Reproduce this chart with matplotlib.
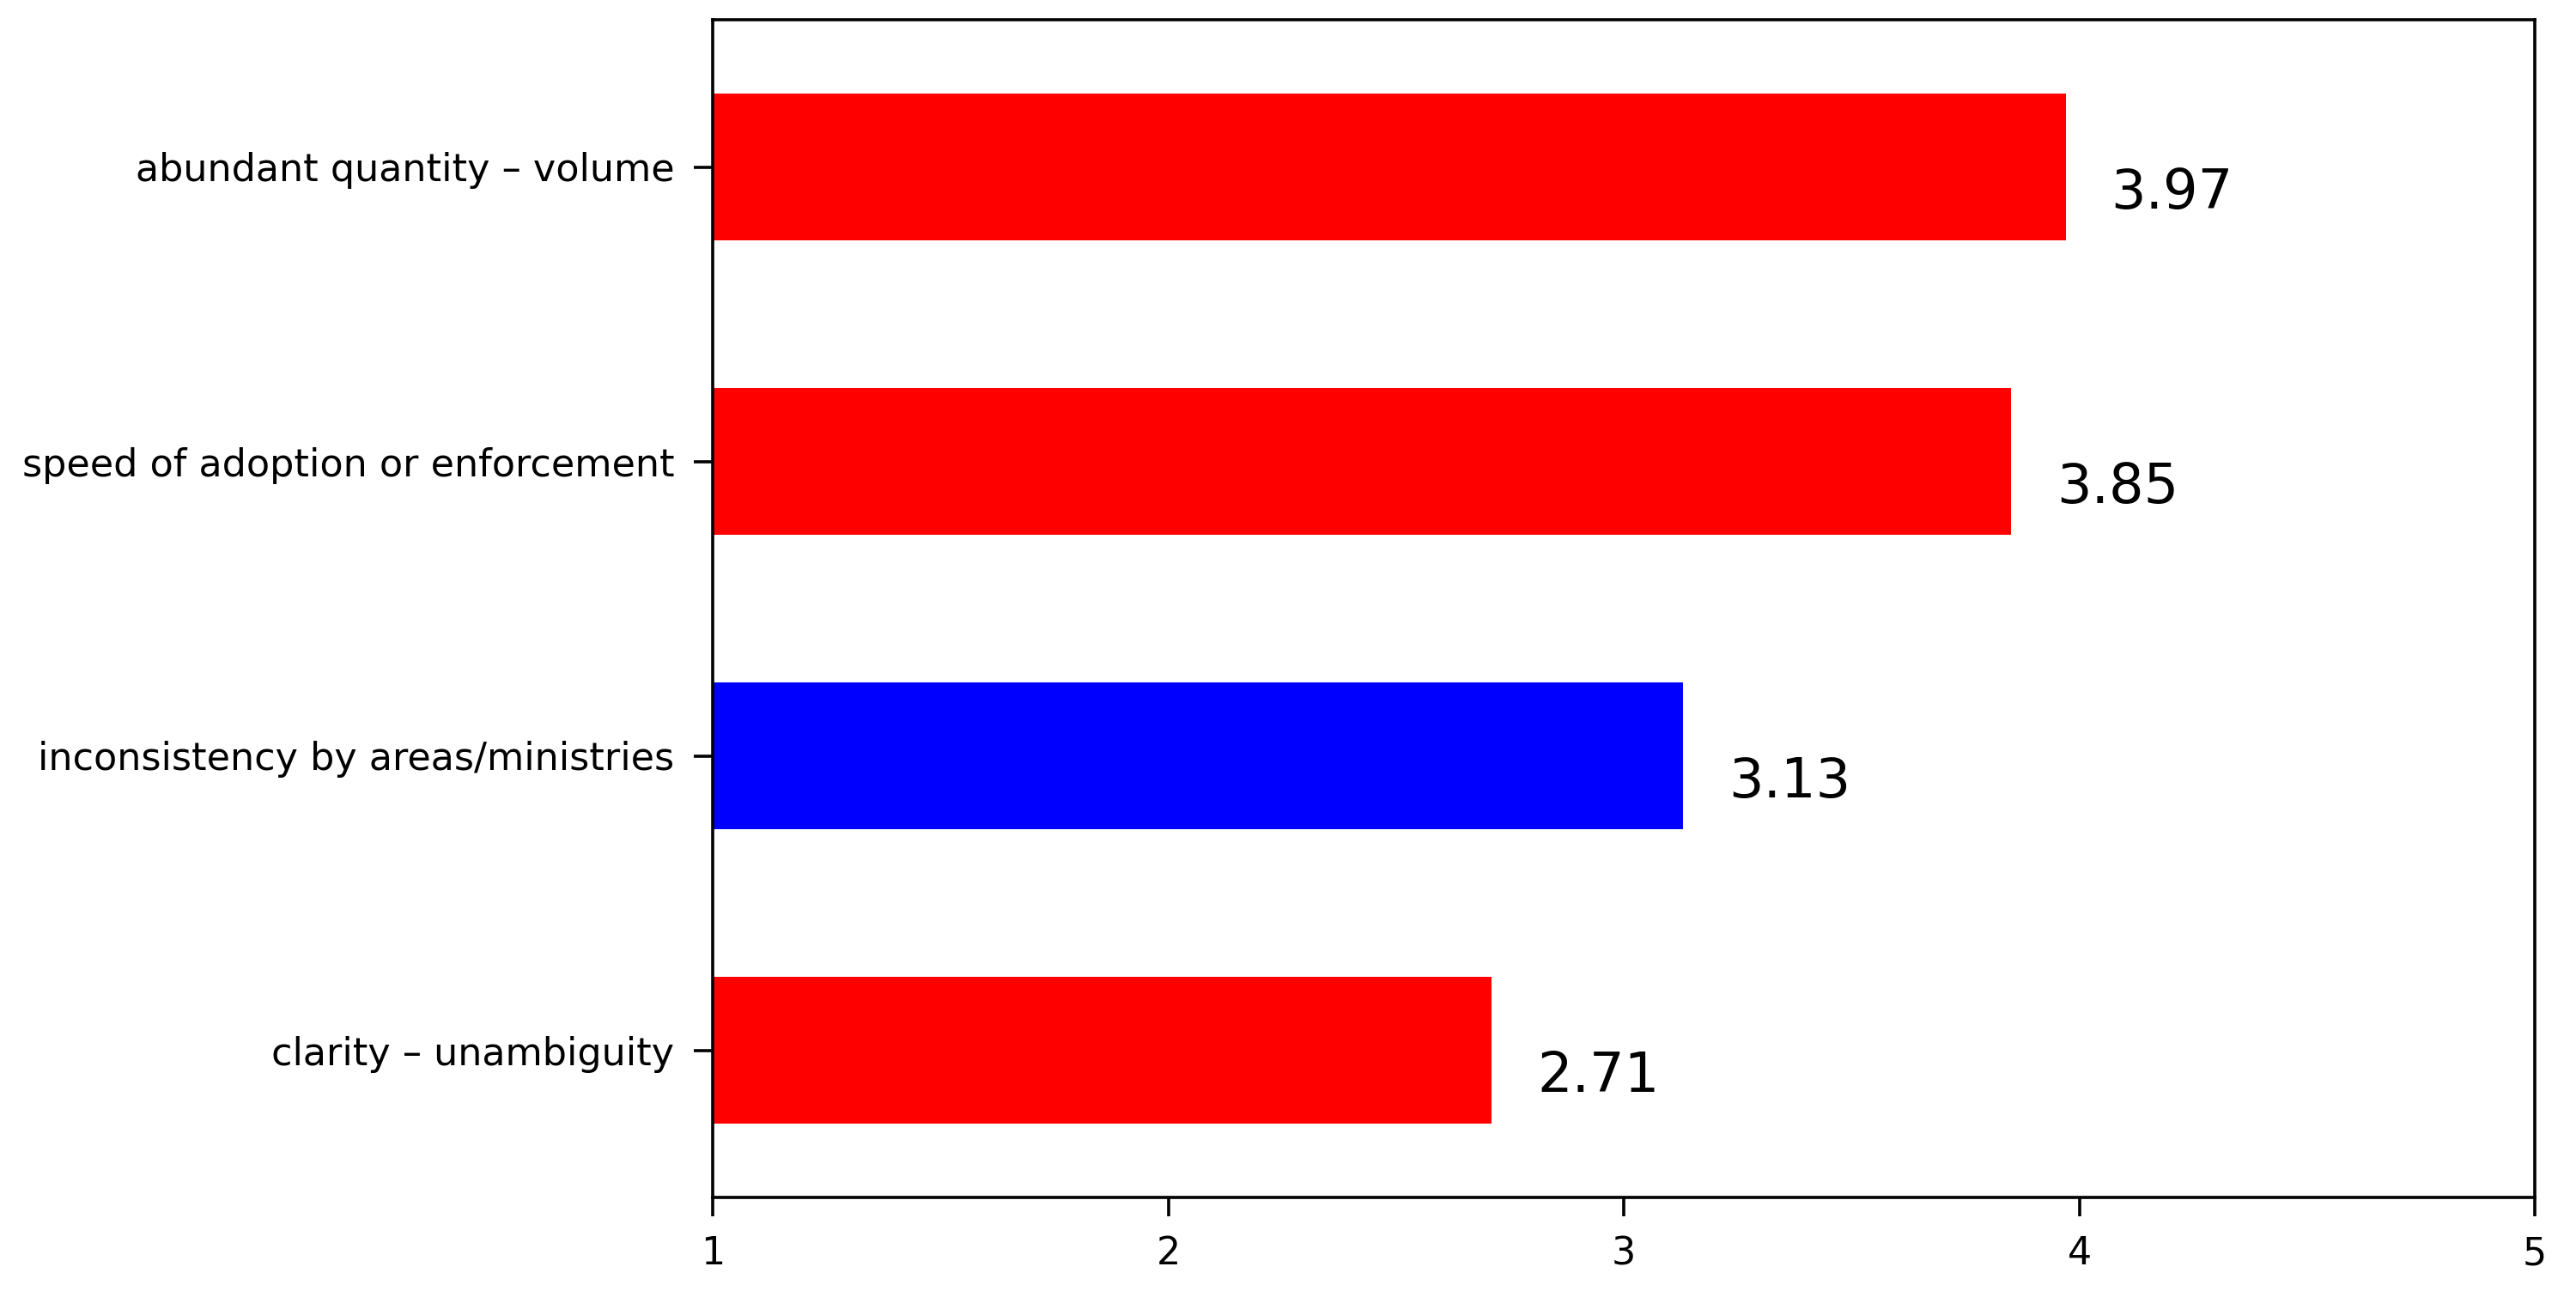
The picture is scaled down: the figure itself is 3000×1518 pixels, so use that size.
import matplotlib
matplotlib.use("Agg")
import matplotlib.pyplot as plt

categories = ["clarity \u2013 unambiguity",
              "inconsistency by areas/ministries",
              "speed of adoption or enforcement",
              "abundant quantity \u2013 volume"]
values = [2.71, 3.13, 3.85, 3.97]
colors = ["#ff0000", "#0000ff", "#ff0000", "#ff0000"]
xticks = [1, 2, 3, 4, 5]

plt.rcParams['font.family'] = ['DejaVu Sans']
fig = plt.figure(figsize=(15, 7.59), dpi=200)
ax = fig.add_axes([830/3000, 1 - 1395/1518, (2952-830)/3000, (1395-23)/1518])

base = 1
ypos = list(range(len(categories)))
ax.barh(ypos, [v - base for v in values], left=base, height=0.5, color=colors)
for y, v in zip(ypos, values):
    ax.text(v + 0.1, y - 0.09, f"{v:.2f}", fontsize=23, va="center", ha="left")

ax.set_yticks(ypos)
ax.set_yticklabels(categories, fontsize=16)
ax.set_xticks(xticks)
ax.set_xticklabels([str(t) for t in xticks], fontsize=16)
ax.set_xlim(1, 5)
ax.set_ylim(-0.5, 3.5)
for s in ax.spines.values():
    s.set_linewidth(1.3)
ax.tick_params(length=8, width=1.3, pad=8)

fig.savefig("out.png", dpi=200)
